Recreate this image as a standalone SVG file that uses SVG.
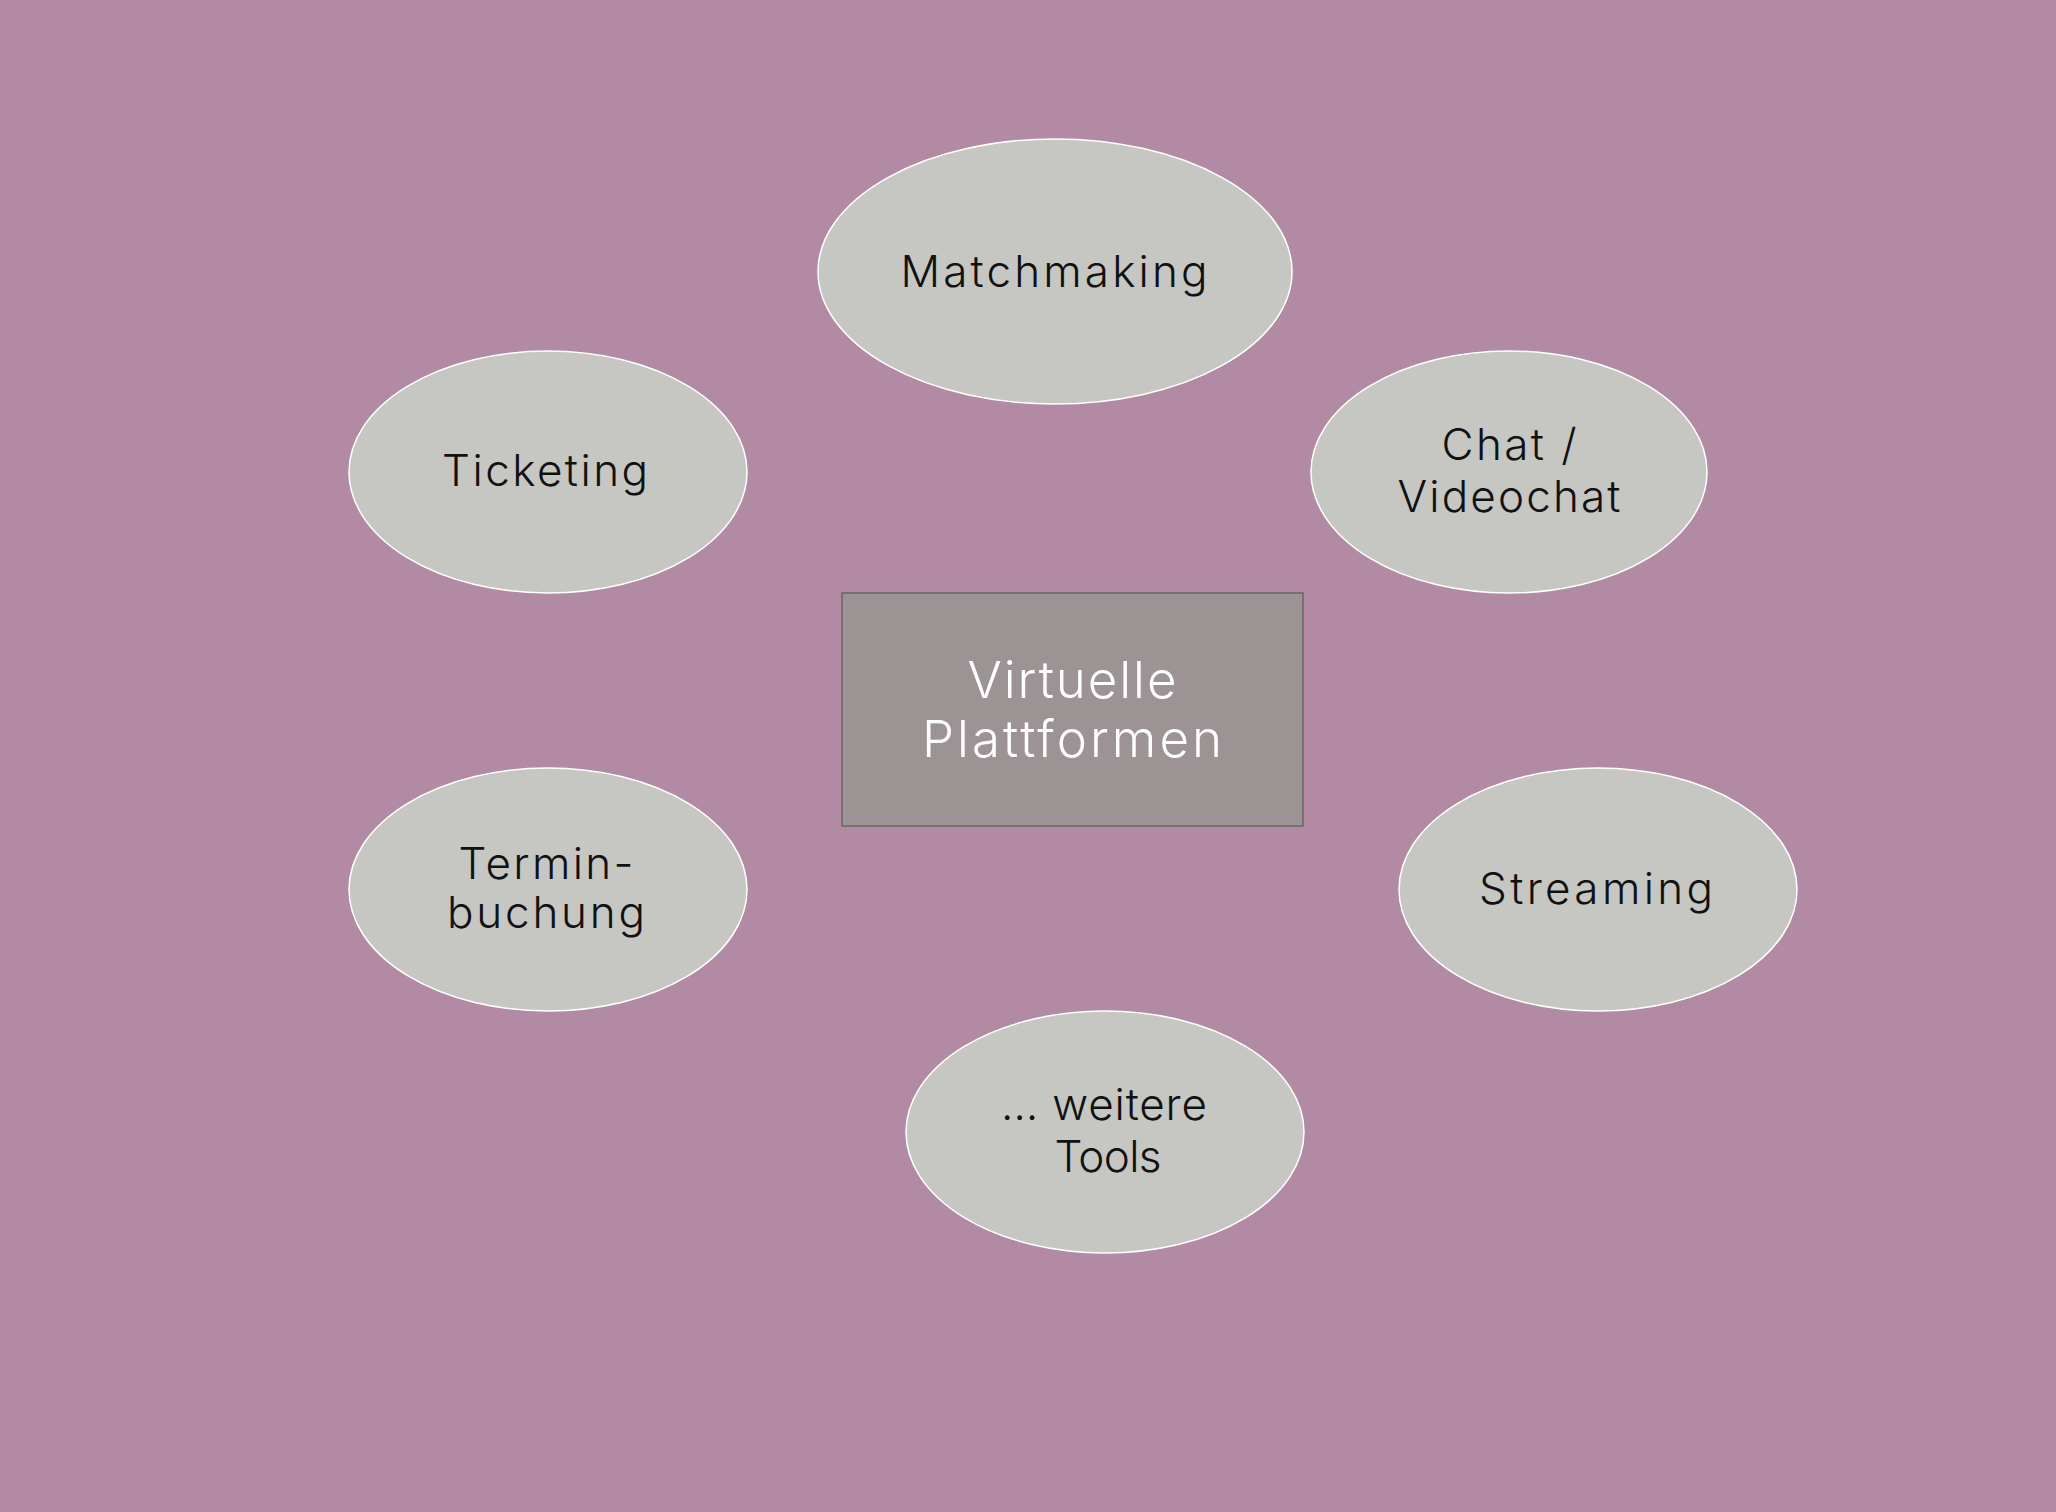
<svg xmlns="http://www.w3.org/2000/svg" width="2056" height="1512" viewBox="0 0 2056 1512">
<style>
.bg{fill:#b38aa3}
.node ellipse{fill:#c6c6c3;stroke:#ffffff;stroke-width:1.5}
.hub rect{fill:#9c9494;stroke:#666666;stroke-width:1.5}
text{font-family:Inter,"Noto Sans","Liberation Sans",sans-serif;text-anchor:middle;font-weight:350}
.lbl{font-size:44px;fill:#111111}
.hubl{font-size:51px;fill:#ffffff}
</style>
<rect class="bg" x="0" y="0" width="2056" height="1512"/>
<g id="connectors"></g>
<g id="hub" class="hub">
<rect x="842" y="593" width="461" height="233"/>
<text class="hubl" x="1072" y="698" textLength="209" lengthAdjust="spacing">Virtuelle</text>
<text class="hubl" x="1072" y="757" textLength="300" lengthAdjust="spacing">Plattformen</text>
</g>
<g id="matchmaking" class="node">
<ellipse cx="1055" cy="271.5" rx="237" ry="132.5"/>
<text class="lbl" x="1054" y="287" textLength="307" lengthAdjust="spacing">Matchmaking</text>
</g>
<g id="ticketing" class="node">
<ellipse cx="548" cy="472" rx="199" ry="121"/>
<text class="lbl" x="545" y="486" textLength="206" lengthAdjust="spacing">Ticketing</text>
</g>
<g id="chat" class="node">
<ellipse cx="1509" cy="472" rx="198" ry="121"/>
<text class="lbl" x="1509" y="460" textLength="135" lengthAdjust="spacing">Chat /</text>
<text class="lbl" x="1509" y="512" textLength="223" lengthAdjust="spacing">Videochat</text>
</g>
<g id="terminbuchung" class="node">
<ellipse cx="548" cy="889.5" rx="199" ry="121.5"/>
<text class="lbl" x="546" y="879" textLength="175" lengthAdjust="spacing">Termin-</text>
<text class="lbl" x="546" y="928" textLength="198" lengthAdjust="spacing">buchung</text>
</g>
<g id="streaming" class="node">
<ellipse cx="1598" cy="889.5" rx="199" ry="121.5"/>
<text class="lbl" x="1596" y="904" textLength="234" lengthAdjust="spacing">Streaming</text>
</g>
<g id="weitere" class="node">
<ellipse cx="1105" cy="1132" rx="199" ry="121"/>
<text class="lbl" x="1104" y="1120" textLength="206" lengthAdjust="spacing">… weitere</text>
<text class="lbl" x="1108" y="1172" textLength="107" lengthAdjust="spacing">Tools</text>
</g>
</svg>
